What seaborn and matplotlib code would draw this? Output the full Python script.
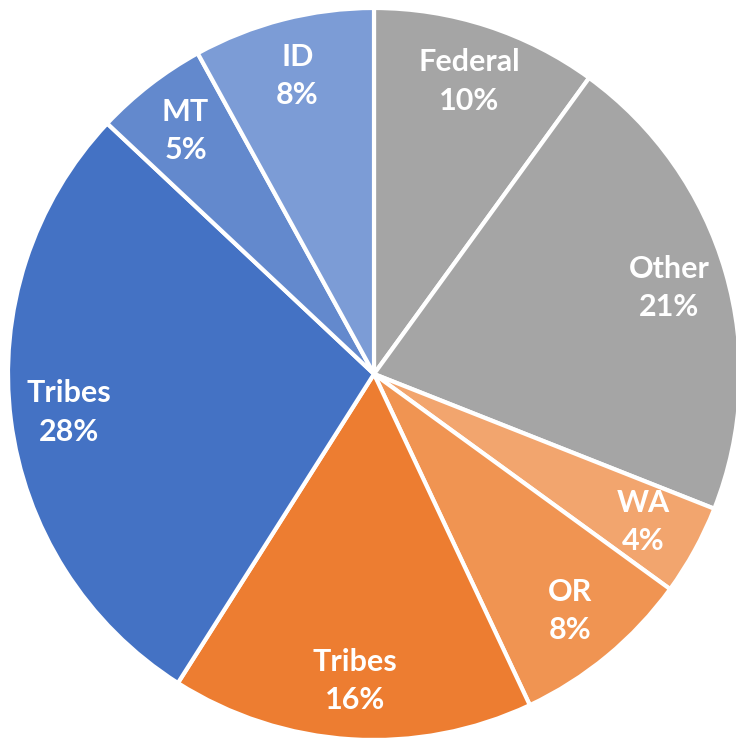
import matplotlib
matplotlib.use("Agg")
import matplotlib.pyplot as plt
import seaborn as sns

sns.set_theme(style="white")
plt.rcParams['font.family'] = ['Lato', 'DejaVu Sans']

categories = ["Federal", "Other", "WA", "OR", "Tribes", "Tribes", "MT", "ID"]
values = [10, 21, 4, 8, 16, 28, 5, 8]
colors = ["#A5A5A5", "#A5A5A5", "#F2A56E", "#F09452", "#ED7D31",
          "#4472C4", "#6389CD", "#7C9CD6"]

W, H = 736, 738
cx, cy, R = 374, 374, 366

fig = plt.figure(figsize=(W / 100, H / 100), dpi=100)
ax = fig.add_axes([0, 0, 1, 1])

labels = [f"{c}\n{v}%" for c, v in zip(categories, values)]
wedges, texts = ax.pie(values, labels=labels, colors=colors, startangle=90,
                       counterclock=False, radius=1.0, labeldistance=0.84,
                       wedgeprops=dict(edgecolor="white", linewidth=3),
                       textprops=dict(color="white", fontsize=22,
                                      fontweight="bold", ha="center",
                                      va="center", linespacing=1.45))
for t in texts:
    t.set_ha("center")
    t.set_va("center")

ax.set_xlim(-cx / R, (W - cx) / R)
ax.set_ylim(-(H - cy) / R, cy / R)
ax.set_aspect("equal")
ax.axis("off")

fig.savefig("out.png", dpi=100)
